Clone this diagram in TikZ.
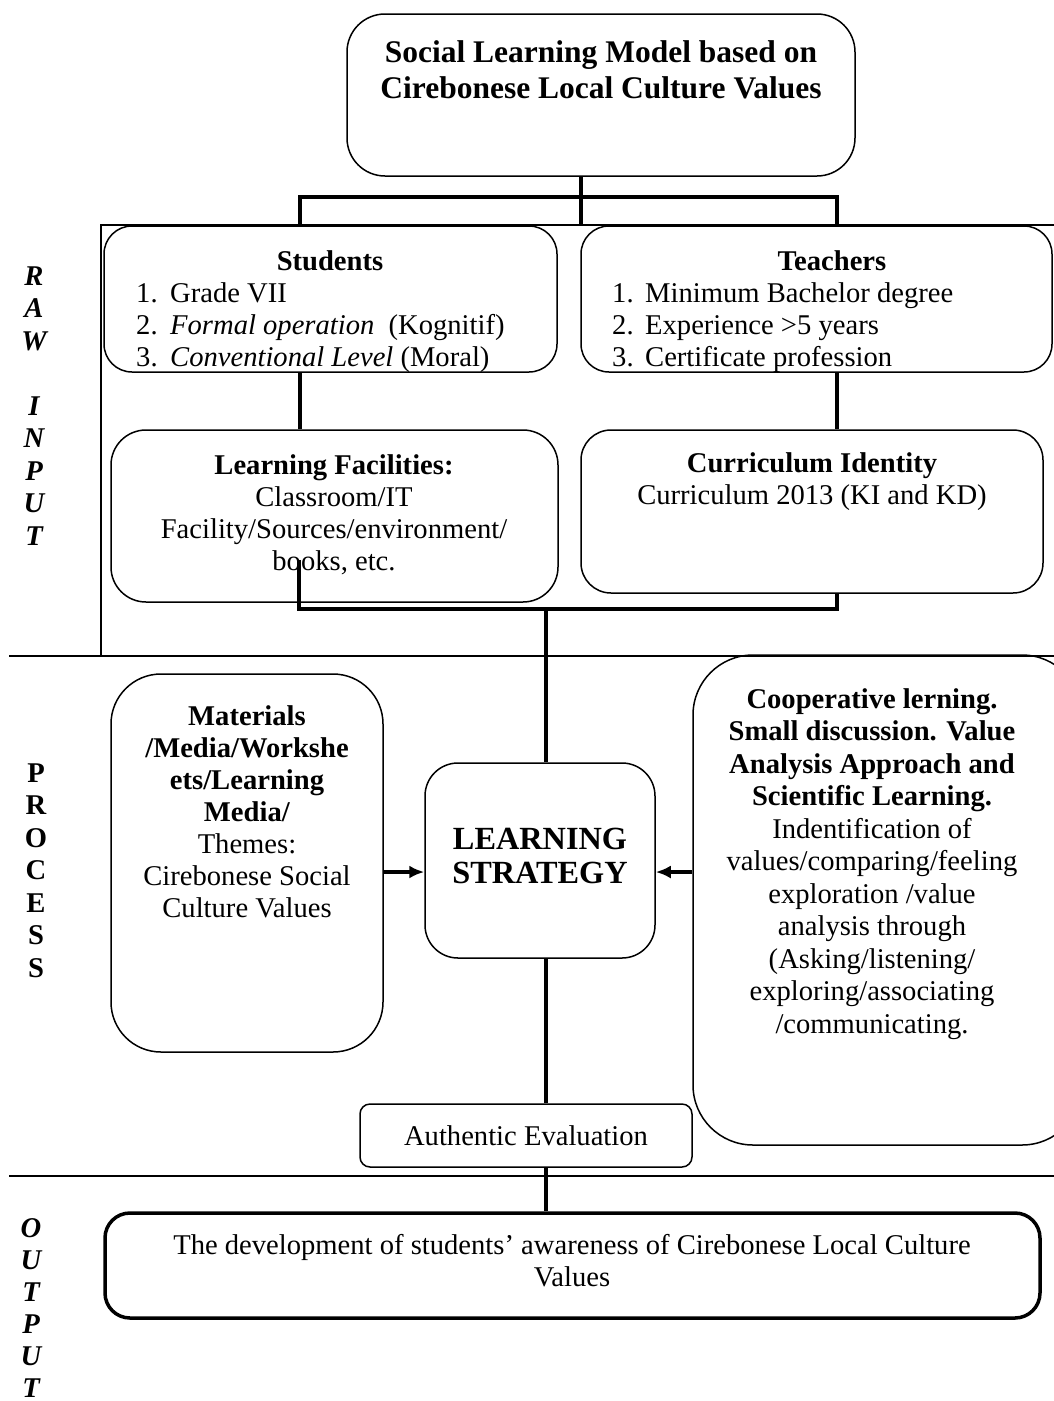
\documentclass[tikz,border=0pt]{standalone}
\usepackage{fontspec}
\setmainfont{Liberation Serif}
\usetikzlibrary{arrows.meta}
\begin{document}
\begin{tikzpicture}[x=1pt,y=-1pt,
  box/.style={draw, line width=1.5pt, rounded corners=#1, inner sep=0pt},
  box/.default=30pt,
  conn/.style={line width=3.5pt},
  frame/.style={line width=2pt},
  txt/.style={anchor=base, align=center, inner sep=0pt, font=\fontsize{28.6}{32}\selectfont},
  lbl/.style={anchor=base, align=center, inner sep=0pt, font=\fontsize{28.6}{32.5}\selectfont\bfseries},
  arr/.style={conn, -{Latex[length=15pt 0 0, width=13pt 0 0]}}
]
\useasboundingbox (0,0) rectangle (1054,1401);
\clip (0,0) rectangle (1054,1401);

% frame lines
\draw[frame] (1054,225) -- (101,225) -- (101,656);
\draw[frame] (9,656) -- (1054,656);
\draw[frame] (9,1176) -- (1054,1176);

% side labels (anchor base = baseline of last line)
\node[lbl, font=\fontsize{28.6}{32.5}\selectfont\bfseries\itshape] (rawin) at (34,545) {R\\A\\W\\\mbox{}\\I\\N\\P\\U\\T};
\node[lbl] (proc) at (36,977) {P\\R\\O\\C\\E\\S\\S};
\node[lbl, font=\fontsize{28.6}{32}\selectfont\bfseries\itshape] (outp) at (31,1397) {O\\U\\T\\P\\U\\T};

% boxes
\node[box=38pt, minimum width=508pt, minimum height=162pt] (top) at (601,95) {};
\node[box=28pt, minimum width=453pt, minimum height=146pt] (stud) at (330.5,299) {};
\node[box=28pt, minimum width=471pt, minimum height=146pt] (tch) at (816.5,299) {};
\node[box=35pt, minimum width=447pt, minimum height=172pt] (lf) at (334.5,516) {};
\node[box=30pt, minimum width=462pt, minimum height=163pt] (ci) at (812,511.5) {};
\node[box=50pt, minimum width=272pt, minimum height=378pt] (mat) at (247,863) {};
\node[box=33pt, minimum width=230pt, minimum height=195pt] (ls) at (540,860.5) {};
\node[box=60pt, minimum width=389pt, minimum height=490pt] (rt) at (887.5,900) {};
\node[box=10pt, minimum width=332pt, minimum height=63pt] (auth) at (526,1135.5) {};
\node[box=25pt, line width=3.5pt, minimum width=935pt, minimum height=105pt] (out) at (572.5,1265.5) {};

% texts
\node[txt, font=\fontsize{31.5}{36}\selectfont\bfseries] (toptxt) at (601,98) {Social Learning Model based on\\Cirebonese Local Culture Values};
\node[txt, font=\fontsize{28.6}{32}\selectfont\bfseries] (studh) at (330,270) {Students};
\node[txt, anchor=base west, align=left] (studl) at (136,366) {\makebox[34pt][l]{1.}Grade VII\\\makebox[34pt][l]{2.}\textit{Formal operation}\ \ (Kognitif)\\\makebox[34pt][l]{3.}\textit{Conventional Level} (Moral)};
\node[txt, font=\fontsize{28.6}{32}\selectfont\bfseries] (tchh) at (832,270) {Teachers};
\node[txt, anchor=base west, align=left] (tchl) at (612,366) {\makebox[33pt][l]{1.}Minimum Bachelor degree\\\makebox[33pt][l]{2.}Experience >5 years\\\makebox[33pt][l]{3.}Certificate profession};
\node[txt] (lftxt) at (334,570) {\textbf{Learning Facilities:}\\Classroom/IT\\Facility/Sources/environment/\\books, etc.};
\node[txt] (citxt) at (812,504) {\textbf{Curriculum Identity}\\Curriculum 2013 (KI and KD)};
\node[txt] (mattxt) at (247,917) {\textbf{Materials}\\\textbf{/Media/Workshe}\\\textbf{ets/Learning}\\\textbf{Media/}\\Themes:\\Cirebonese Social\\Culture Values};
\node[txt, font=\fontsize{32.3}{34}\selectfont\bfseries] (lstxt) at (540,883) {LEARNING\\STRATEGY};
\node[txt, font=\fontsize{28.6}{32.5}\selectfont] (rttxt) at (872,1033) {\textbf{Cooperative lerning.}\\\textbf{Small discussion. Value}\\\textbf{Analysis Approach and}\\\textbf{Scientific Learning.}\\Indentification of\\values/comparing/feeling\\exploration /value\\analysis through\\(Asking/listening/\\exploring/associating\\/communicating.};
\node[txt] (authtxt) at (526,1145) {Authentic Evaluation};
\node[txt] (outtxt) at (572,1286) {The development of students’ awareness of Cirebonese Local Culture\\Values};

% connectors
\coordinate (tj) at (581,197);
\coordinate (b1) at (300,197);
\coordinate (b2) at (837,197);
\coordinate (lfj) at (299,560);
\coordinate (bj) at (546,609);
\coordinate (ay) at (0,872);
\draw[conn] (top.south -| tj) -- (tj |- stud.north);
\draw[conn] (stud.north -| b1) -- (b1) -- (b2) -- (tch.north -| b2);
\draw[conn] (stud.south -| b1) -- (lf.north -| b1);
\draw[conn] (tch.south -| b2) -- (ci.north -| b2);
\draw[conn] (lfj) -- (lfj |- bj) -- (bj -| b2) -- (ci.south -| b2);
\draw[conn] (bj) -- (ls.north -| bj);
\draw[conn] (ls.south -| bj) -- (auth.north -| bj);
\draw[conn] (auth.south -| bj) -- (out.north -| bj);
\draw[arr] (mat.east |- ay) -- (ls.west |- ay);
\draw[arr] (rt.west |- ay) -- (ls.east |- ay);
\end{tikzpicture}
\end{document}
